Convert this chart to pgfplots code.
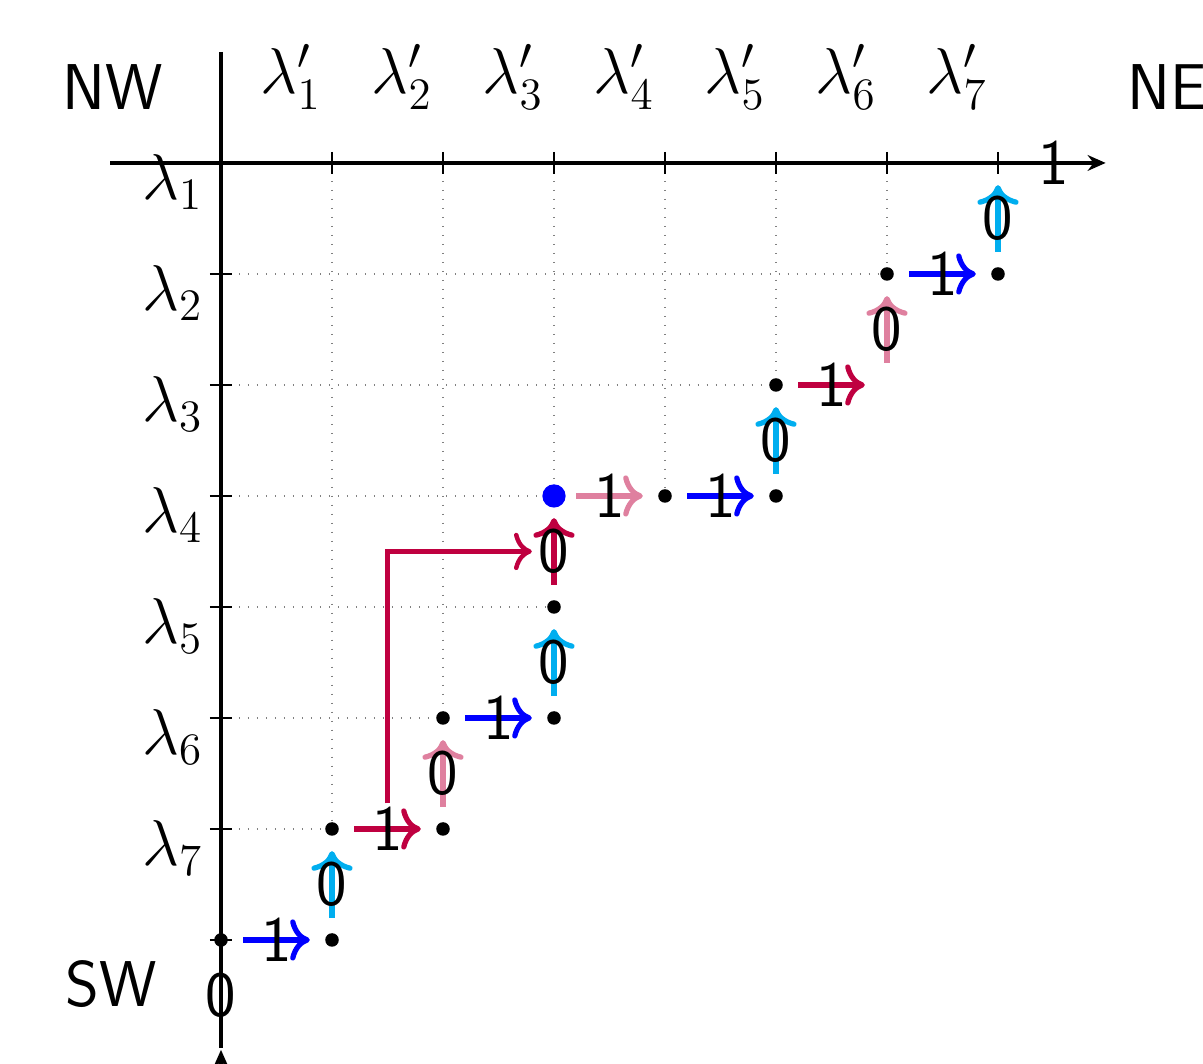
\documentclass[border=0pt]{standalone}
\usepackage{pgfplots}
\pgfplotsset{compat=1.18}
\usetikzlibrary{arrows.meta}
\definecolor{cpurple}{rgb}{0.75,0,0.25}
\colorlet{cpink}{cpurple!50}
\definecolor{ccyan}{RGB}{0,174,239}
\definecolor{cblue}{rgb}{0,0,1}
\begin{document}
\LARGE
\begin{tikzpicture}[font=\LARGE]
\begin{axis}[
  scale only axis, width=11.282cm, height=9.978cm,
  xmin=-1.991, xmax=8.847, ymin=-1.468, ymax=8.117,
  y dir=reverse, hide axis, clip=false,
  grd/.style={gray, dotted, line width=0.4pt},
  arr/.style={line width=1.4pt, -{To[scale=1.12]}},
]
% Young diagram grid
\addplot[grd] coordinates {(0,1) (6,1)};
\addplot[grd] coordinates {(0,2) (5,2)};
\addplot[grd] coordinates {(0,3) (3,3)};
\addplot[grd] coordinates {(0,4) (3,4)};
\addplot[grd] coordinates {(0,5) (2,5)};
\addplot[grd] coordinates {(0,6) (1,6)};
\addplot[grd] coordinates {(1,0) (1,6)};
\addplot[grd] coordinates {(2,0) (2,5)};
\addplot[grd] coordinates {(3,0) (3,3)};
\addplot[grd] coordinates {(4,0) (4,3)};
\addplot[grd] coordinates {(5,0) (5,2)};
\addplot[grd] coordinates {(6,0) (6,1)};
% axes
\addplot[black, line width=1pt, -{Stealth[length=4.8pt,width=4.2pt]}] coordinates {(-1,0) (7.97,0)};
\addplot[black, line width=1pt] coordinates {(0,-1) (0,7.97)};
\addplot[black, line width=1pt, -{Stealth[length=4.8pt,width=4.2pt]}] coordinates {(0,8.5) (0,7.99)};
% ticks
\addplot[black, line width=0.5pt] coordinates {(1,-0.1) (1,0.1)};
\addplot[black, line width=0.5pt] coordinates {(2,-0.1) (2,0.1)};
\addplot[black, line width=0.5pt] coordinates {(3,-0.1) (3,0.1)};
\addplot[black, line width=0.5pt] coordinates {(4,-0.1) (4,0.1)};
\addplot[black, line width=0.5pt] coordinates {(5,-0.1) (5,0.1)};
\addplot[black, line width=0.5pt] coordinates {(6,-0.1) (6,0.1)};
\addplot[black, line width=0.5pt] coordinates {(7,-0.1) (7,0.1)};
\addplot[black, line width=0.5pt] coordinates {(-0.1,1) (0.1,1)};
\addplot[black, line width=0.5pt] coordinates {(-0.1,2) (0.1,2)};
\addplot[black, line width=0.5pt] coordinates {(-0.1,3) (0.1,3)};
\addplot[black, line width=0.5pt] coordinates {(-0.1,4) (0.1,4)};
\addplot[black, line width=0.5pt] coordinates {(-0.1,5) (0.1,5)};
\addplot[black, line width=0.5pt] coordinates {(-0.1,6) (0.1,6)};
\addplot[black, line width=0.5pt] coordinates {(-0.1,7) (0.1,7)};
% path steps
\addplot[arr, cblue]   coordinates {(0.2,7) (0.8,7)};
\addplot[arr, ccyan]   coordinates {(1,6.8) (1,6.2)};
\addplot[arr, cpurple] coordinates {(1.2,6) (1.8,6)};
\addplot[arr, cpink]   coordinates {(2,5.8) (2,5.2)};
\addplot[arr, cblue]   coordinates {(2.2,5) (2.8,5)};
\addplot[arr, ccyan]   coordinates {(3,4.8) (3,4.2)};
\addplot[arr, cpurple] coordinates {(3,3.8) (3,3.2)};
\addplot[arr, cpink]   coordinates {(3.2,3) (3.8,3)};
\addplot[arr, cblue]   coordinates {(4.2,3) (4.8,3)};
\addplot[arr, ccyan]   coordinates {(5,2.8) (5,2.2)};
\addplot[arr, cpurple] coordinates {(5.2,2) (5.8,2)};
\addplot[arr, cpink]   coordinates {(6,1.8) (6,1.2)};
\addplot[arr, cblue]   coordinates {(6.2,1) (6.8,1)};
\addplot[arr, ccyan]   coordinates {(7,0.8) (7,0.2)};
% long jump arrow
\addplot[arr, cpurple, line width=1.2pt] coordinates {(1.5,5.77) (1.5,3.5) (2.8,3.5)};
% vertices
\addplot[only marks, mark=*, mark size=1.6pt, black] coordinates {
  (0,7) (1,7) (1,6) (2,6) (2,5) (3,5) (3,4) (4,3) (5,3) (5,2) (6,1) (7,1)};
\addplot[only marks, mark=*, mark size=2.9pt, cblue, mark options={fill=cblue}] coordinates {(3,3)};
% step labels
\node at (axis cs:0.5,7) {\sffamily 1};
\node at (axis cs:1,6.5) {\sffamily 0};
\node at (axis cs:1.5,6) {\sffamily 1};
\node at (axis cs:2,5.5) {\sffamily 0};
\node at (axis cs:2.5,5) {\sffamily 1};
\node at (axis cs:3,4.5) {\sffamily 0};
\node at (axis cs:3,3.5) {\sffamily 0};
\node at (axis cs:3.5,3) {\sffamily 1};
\node at (axis cs:4.5,3) {\sffamily 1};
\node at (axis cs:5,2.5) {\sffamily 0};
\node at (axis cs:5.5,2) {\sffamily 1};
\node at (axis cs:6,1.5) {\sffamily 0};
\node at (axis cs:6.5,1) {\sffamily 1};
\node at (axis cs:7,0.5) {\sffamily 0};
\node at (axis cs:7.5,0) {\sffamily 1};
\node at (axis cs:0,7.5) {\sffamily 0};
% corner labels
\node[anchor=base, inner sep=0pt] at (axis cs:-0.98,-0.48) {\sffamily NW};
\node[anchor=base west, inner sep=0pt] at (axis cs:8.16,-0.48) {\sffamily NE};
\node[anchor=base, inner sep=0pt] at (axis cs:-0.99,7.6) {\sffamily SW};
% row labels
\node[anchor=base east, inner sep=0pt] at (axis cs:-0.155,0.33) {$\lambda_1$};
\node[anchor=base east, inner sep=0pt] at (axis cs:-0.155,1.33) {$\lambda_2$};
\node[anchor=base east, inner sep=0pt] at (axis cs:-0.155,2.33) {$\lambda_3$};
\node[anchor=base east, inner sep=0pt] at (axis cs:-0.155,3.33) {$\lambda_4$};
\node[anchor=base east, inner sep=0pt] at (axis cs:-0.155,4.33) {$\lambda_5$};
\node[anchor=base east, inner sep=0pt] at (axis cs:-0.155,5.33) {$\lambda_6$};
\node[anchor=base east, inner sep=0pt] at (axis cs:-0.155,6.33) {$\lambda_7$};
% column labels
\node[anchor=base west, inner sep=0pt] at (axis cs:0.35,-0.63) {$\lambda'_1$};
\node[anchor=base west, inner sep=0pt] at (axis cs:1.35,-0.63) {$\lambda'_2$};
\node[anchor=base west, inner sep=0pt] at (axis cs:2.35,-0.63) {$\lambda'_3$};
\node[anchor=base west, inner sep=0pt] at (axis cs:3.35,-0.63) {$\lambda'_4$};
\node[anchor=base west, inner sep=0pt] at (axis cs:4.35,-0.63) {$\lambda'_5$};
\node[anchor=base west, inner sep=0pt] at (axis cs:5.35,-0.63) {$\lambda'_6$};
\node[anchor=base west, inner sep=0pt] at (axis cs:6.35,-0.63) {$\lambda'_7$};
\end{axis}
\pgfresetboundingbox
\useasboundingbox (current axis.south west) rectangle (current axis.north east);
\end{tikzpicture}
\end{document}
